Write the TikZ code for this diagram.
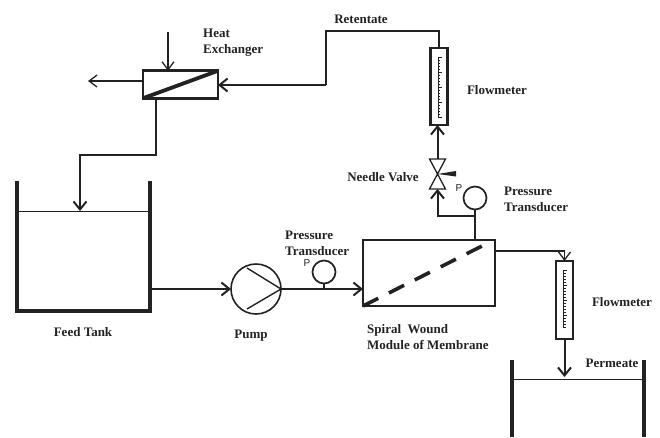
\documentclass[tikz,border=0pt]{standalone}
\usepackage{fontspec}
\setmainfont{Liberation Serif}
\newfontfamily\gaugefont{Liberation Sans}
\usetikzlibrary{arrows.meta}
\definecolor{ink}{HTML}{222222}
\tikzset{
  pipe/.style={draw=ink,line width=2pt},
  flow/.style={pipe,-{Straight Barb[length=8pt,width=13pt,line width=2pt]}},
  thinflow/.style={draw=ink,line width=1.3pt,-{Straight Barb[length=8pt,width=12pt,line width=1.3pt]}},
  lbl/.style={font=\bfseries\fontsize{13}{16}\selectfont,text=ink,inner sep=0pt,align=left},
  boxed/.style={draw=ink,line width=2.6pt,inner sep=0pt,outer sep=0pt,fill=white},
  gauge/.style={circle,draw=ink,line width=1.7pt,minimum size=23pt,inner sep=0pt,outer sep=0pt},
  plabel/.style={font=\gaugefont\fontsize{10}{11}\selectfont,text=ink,inner sep=0pt},
  wall/.style={draw=ink,line width=3.4pt},
  level/.style={draw=ink,line width=0.9pt},
  meter/.style={boxed,minimum width=17pt},
  tick/.style={draw=ink,line width=0.5pt}
}
\begin{document}
\begin{tikzpicture}[x=1pt,y=-1pt]
\useasboundingbox (0,0) rectangle (660,437);
% heat exchanger
\node[boxed,minimum width=75pt,minimum height=27.5pt] (hx) at (180.5,84.5) {};
\draw[draw=ink,line width=3.8pt] (hx.south west) -- (hx.north east);
\coordinate (coldin) at (168,32);
\coordinate (coldout) at (88,81);
\draw[thinflow] (coldin) -- (hx.north -| coldin);
\draw[thinflow] (hx.west |- coldout) -- (coldout);
\node[lbl,anchor=north west] (hxl) at (203,29) {Heat\\Exchanger};
% feed tank
\coordinate (ftl) at (17,181);
\coordinate (ftlb) at (17,311);
\coordinate (ftrb) at (150,311);
\coordinate (ftr) at (150,181);
\draw[wall,line join=miter] (ftl) -- (ftlb) -- (ftrb) -- (ftr);
\coordinate (ftlevelL) at (17,211);
\coordinate (ftlevelR) at (150,211);
\draw[level] (ftlevelL) -- (ftlevelR);
\node[lbl] (ftlabel) at (83,332) {Feed Tank};
% return to tank
\coordinate (hxo) at (156,98);
\coordinate (hxo1) at (156,155);
\coordinate (hxo2) at (80,155);
\coordinate (ftin) at (80,211);
\draw[flow] (hxo) -- (hxo1) -- (hxo2) -- (ftin);
% pump
\node[circle,draw=ink,line width=1.6pt,minimum size=50pt,inner sep=0pt,outer sep=0pt] (pump) at (256,289) {};
\draw[draw=ink,line width=1.4pt] (247,268) -- (pump.east) -- (247,309);
\node[lbl] (pumpl) at (251,336) {Pump};
\coordinate (ftout) at (150,289);
\draw[flow] (ftout) -- (pump.west);
% module
\node[boxed,minimum width=132pt,minimum height=66pt] (mod) at (429,273) {};
\coordinate (dashend) at (482,246);
\draw[draw=ink,line width=3.6pt,dash pattern=on 17pt off 12pt] (mod.south west) -- (dashend);
\node[lbl,anchor=north west] (modl) at (367,324) {Spiral\ \ Wound\\Module of Membrane};
\draw[flow] (pump.east) -- (mod.west |- pump.east);
% inlet gauge
\node[gauge] (g1) at (324,272) {};
\coordinate (g1b) at (324,289);
\draw[pipe] (g1.south) -- (g1b);
\node[plabel] (p1) at (307,263) {P};
\node[lbl,anchor=north west] (g1l) at (285,231) {Pressure\\Transducer};
% outlet gauge and valve
\node[gauge] (g2) at (475,198) {};
\coordinate (mt) at (475,240);
\coordinate (corner) at (437.5,216);
\coordinate (tee) at (475,216);
\draw[pipe] (g2.south) -- (mt);
\node[plabel] (p2) at (459,188) {P};
\node[lbl,anchor=north west] (g2l) at (504,187) {Pressure\\Transducer};
\coordinate (vc) at (437.5,174);
\coordinate (vtop) at (437.5,159);
\coordinate (vbot) at (437.5,189);
\draw[draw=ink,line width=1.3pt,line join=miter] (vc) -- (429.5,159) -- (445.5,159) -- cycle;
\draw[draw=ink,line width=1.3pt,line join=miter] (vc) -- (429.5,189) -- (445.5,189) -- cycle;
\fill[ink] (vc) -- (456,171) -- (456,176.5) -- cycle;
\node[lbl] (vl) at (383,177) {Needle Valve};
\draw[flow] (tee) -- (corner) -- (vbot);
% retentate flowmeter
\node[meter,minimum height=77pt] (fm1) at (439,86.5) {};
\foreach \i in {0,...,20} \draw[tick] (438,{57+\i*3}) -- ++({mod(\i,5)==0 ? 3.5 : 2},0);
\draw[draw=ink,line width=0.6pt] (438,57) -- (438,117);
\node[lbl] (fm1l) at (497,90) {Flowmeter};
\draw[flow] (vtop) -- (vtop |- fm1.south);
% retentate line
\coordinate (r1) at (326,85);
\coordinate (r2) at (326,31);
\coordinate (r3) at (439,31);
\draw[draw=ink,line width=1.5pt] (fm1.north) -- (r3) -- (r2) -- (r1);
\draw[flow] (r1) -- (hx.east |- r1);
\node[lbl] (rl) at (361,19) {Retentate};
% permeate flowmeter
\node[meter,minimum height=78pt] (fm2) at (564.5,300) {};
\foreach \i in {0,...,19} \draw[tick] (563.5,{270+\i*3}) -- ++({mod(\i,5)==0 ? 3.5 : 2},0);
\draw[draw=ink,line width=0.6pt] (563.5,270) -- (563.5,328);
\node[lbl] (fm2l) at (622,302) {Flowmeter};
\coordinate (m1) at (495,251);
\coordinate (m2) at (564.5,251);
\draw[thinflow] (m1) -- (m2) -- (fm2.north);
% permeate tank
\coordinate (ptin) at (564.5,377);
\draw[flow] (fm2.south) -- (ptin);
\coordinate (ptl) at (512,360);
\coordinate (ptlb) at (512,437);
\coordinate (ptr) at (644,360);
\coordinate (ptrb) at (644,437);
\draw[wall] (ptl) -- (ptlb);
\draw[wall] (ptr) -- (ptrb);
\coordinate (ptlevelL) at (512,379);
\coordinate (ptlevelR) at (644,379);
\draw[level] (ptlevelL) -- (ptlevelR);
\node[lbl] (pl) at (612,363) {Permeate};
\end{tikzpicture}
\end{document}
